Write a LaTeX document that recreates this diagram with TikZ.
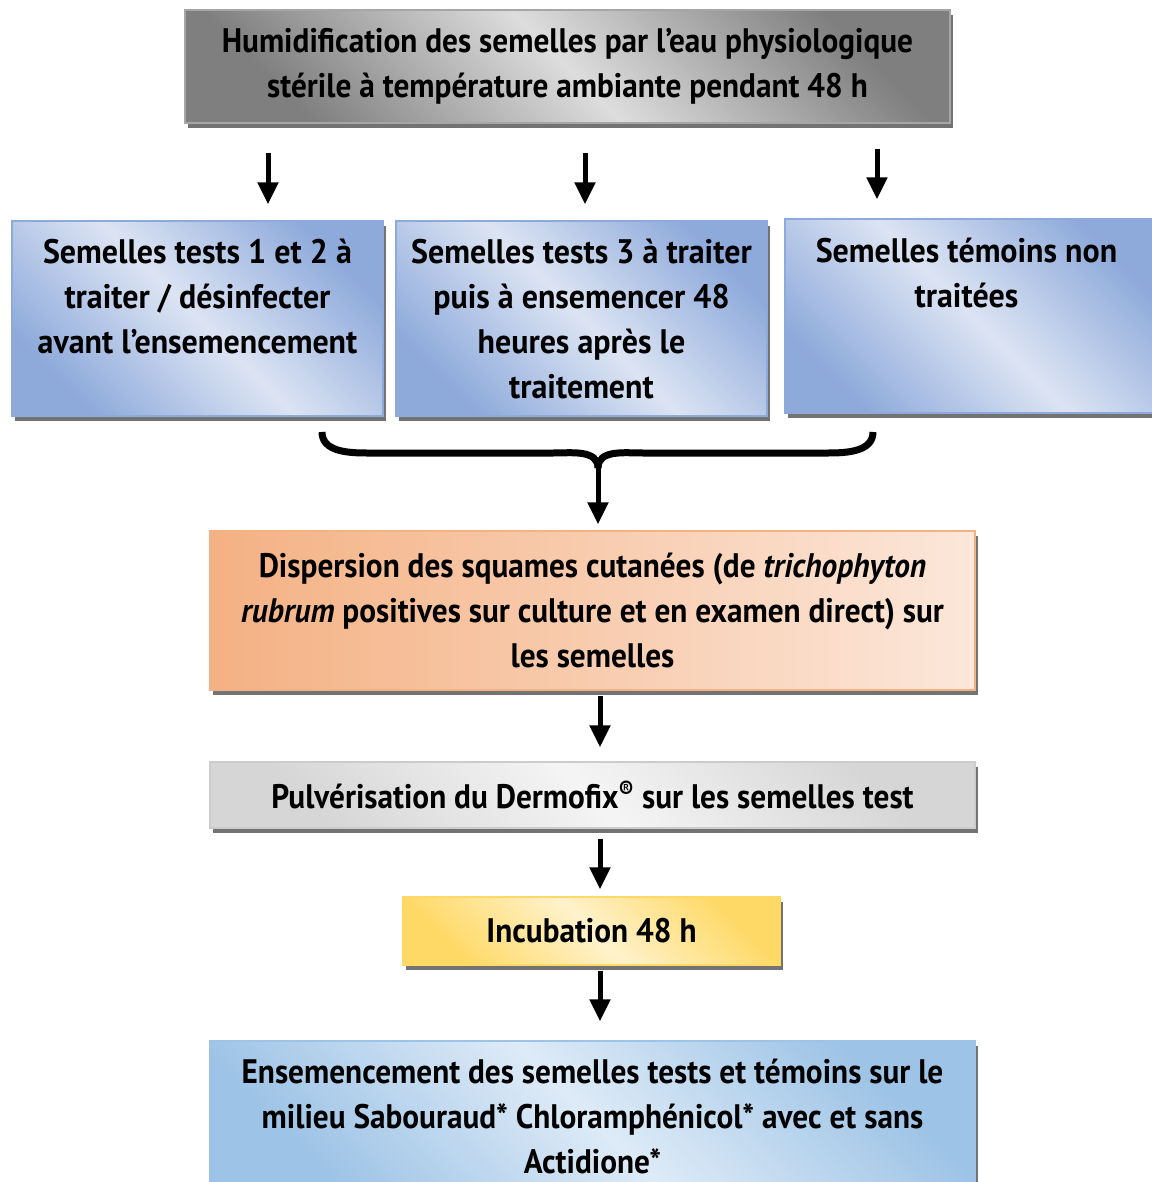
\documentclass[tikz,border=0pt]{standalone}
\usepackage{fontspec}
\setmainfont{PT Sans}[FakeStretch=0.92]
\newfontfamily\wideface{PT Sans}[FakeStretch=0.94]
\usetikzlibrary{arrows.meta,shadows}

\definecolor{blueDark}{HTML}{8EAADB}
\definecolor{blueLight}{HTML}{DCE4F3}
\definecolor{skyDark}{HTML}{9DC3E6}
\definecolor{skyLight}{HTML}{DEEBF7}
\definecolor{orangeDark}{HTML}{F4B183}
\definecolor{orangeLight}{HTML}{FCE7DA}
\definecolor{yellowDark}{HTML}{FFD966}
\definecolor{yellowLight}{HTML}{FFF2CC}
\definecolor{grayDark}{HTML}{7F7F7F}
\definecolor{grayLight}{HTML}{DDDDDD}

\tikzset{
    flowbox/.style={rectangle, draw=#1, line width=1.2pt, inner sep=0pt,
        drop shadow={shadow xshift=3pt, shadow yshift=-5pt, fill=black!55, opacity=1}},
    diagshade/.style 2 args={top color=#1, bottom color=#1, middle color=#2, shading angle=-45},
    boxfont/.style={font=\bfseries\fontsize{34}{45}\selectfont},
    bigarrow/.style={line width=5pt, -{Triangle[width=20pt,length=22pt]}},
    brace/.style={line width=7pt}
}

\begin{document}
\begin{tikzpicture}[x=1pt,y=-1pt]
    \useasboundingbox (0,0) rectangle (1151,1182);
    \fill[white] (0,0) rectangle (1151,1182);

    % first step
    \node[flowbox=gray!70, diagshade={grayDark}{grayLight}, boxfont, align=center,
        minimum width=765pt, minimum height=113pt] (humid) at (567.5,66.5)
        {Humidification des semelles par l’eau physiologique\\stérile à température ambiante pendant 48 h};

    % the three groups of soles
    \node[flowbox=blueDark, diagshade={blueDark}{blueLight}, boxfont,
        minimum width=371pt, minimum height=195pt] (semA) at (197.5,318.5)
        {\parbox[c][195pt][t]{366pt}{\centering\wideface\rule{0pt}{42pt}Semelles tests 1 et 2 à\\traiter / désinfecter\\avant l’ensemencement}};
    \node[flowbox=blueDark, diagshade={blueDark}{blueLight}, boxfont,
        minimum width=371pt, minimum height=195pt] (semB) at (581.5,318.5)
        {\parbox[c][195pt][t]{366pt}{\centering\wideface\rule{0pt}{42pt}Semelles tests 3 à traiter\\puis à ensemencer 48\\heures après le\\traitement}};
    \node[flowbox=blueDark, diagshade={blueDark}{blueLight}, boxfont,
        minimum width=375pt, minimum height=194pt] (semC) at (972.5,316)
        {\parbox[c][194pt][t]{365pt}{\hspace*{-6pt}\parbox{365pt}{\centering\wideface\rule{0pt}{43pt}Semelles témoins non\\traitées}}};

    \node[flowbox=orangeDark, left color=orangeDark, right color=orangeLight, boxfont, align=center,
        minimum width=765pt, minimum height=159pt] (disp) at (592.5,610.5)
        {Dispersion des squames cutanées (de \textit{trichophyton}\\\textit{rubrum} positives sur culture et en examen direct) sur\\les semelles};

    \node[flowbox=gray!40, diagshade={gray!32}{gray!8}, boxfont, align=center,
        minimum width=765pt, minimum height=66pt] (pulv) at (592.5,795)
        {Pulvérisation du Dermofix\textsuperscript{®} sur les semelles test};

    \node[flowbox=yellowDark, diagshade={yellowDark}{yellowLight}, boxfont, align=center,
        minimum width=377pt, minimum height=68pt] (incub) at (591.5,931)
        {Incubation 48 h};

    \node[flowbox=skyDark, diagshade={skyDark}{skyLight}, boxfont,
        minimum width=765pt, minimum height=154pt] (ensem) at (592.5,1118)
        {\parbox[c][154pt][t]{760pt}{\centering\rule{0pt}{42pt}Ensemencement des semelles tests et témoins sur le\\milieu Sabouraud* Chloramphénicol* avec et sans\\Actidione*}};

    % arrows from the first step
    \coordinate (tA) at ([xshift=70.5pt]semA.north);
    \coordinate (tB) at ([xshift=3.5pt]semB.north);
    \coordinate (tC) at ([xshift=-95.5pt]semC.north);
    \draw[bigarrow, shorten <=29pt, shorten >=16pt] (humid.south -| tA) -- (tA);
    \draw[bigarrow, shorten <=29pt, shorten >=16pt] (humid.south -| tB) -- (tB);
    \draw[bigarrow, shorten <=25pt, shorten >=19pt] (humid.south -| tC) -- (tC);

    % brace joining the groups
    \coordinate (braceL) at (322,432);
    \coordinate (braceR) at (873,432);
    \coordinate (braceM) at (598,468);
    \draw[brace] (braceL) to[out=-90,in=180] (367,453) -- (553,453) to[out=0,in=90] (braceM);
    \draw[brace] (braceM) to[out=90,in=180] (643,453) -- (828,453) to[out=0,in=-90] (braceR);
    \draw[bigarrow, shorten >=6pt] (braceM) -- ([xshift=5.5pt]disp.north);

    % following steps
    \draw[bigarrow, shorten <=5pt, shorten >=14pt] ([xshift=7.5pt]disp.south) -- ([xshift=7.5pt]pulv.north);
    \draw[bigarrow, shorten <=10pt, shorten >=7pt] ([xshift=7.5pt]pulv.south) -- ([xshift=8.5pt]incub.north);
    \draw[bigarrow, shorten <=5pt, shorten >=19pt] ([xshift=8.5pt]incub.south) -- ([xshift=7.5pt]ensem.north);
\end{tikzpicture}
\end{document}
